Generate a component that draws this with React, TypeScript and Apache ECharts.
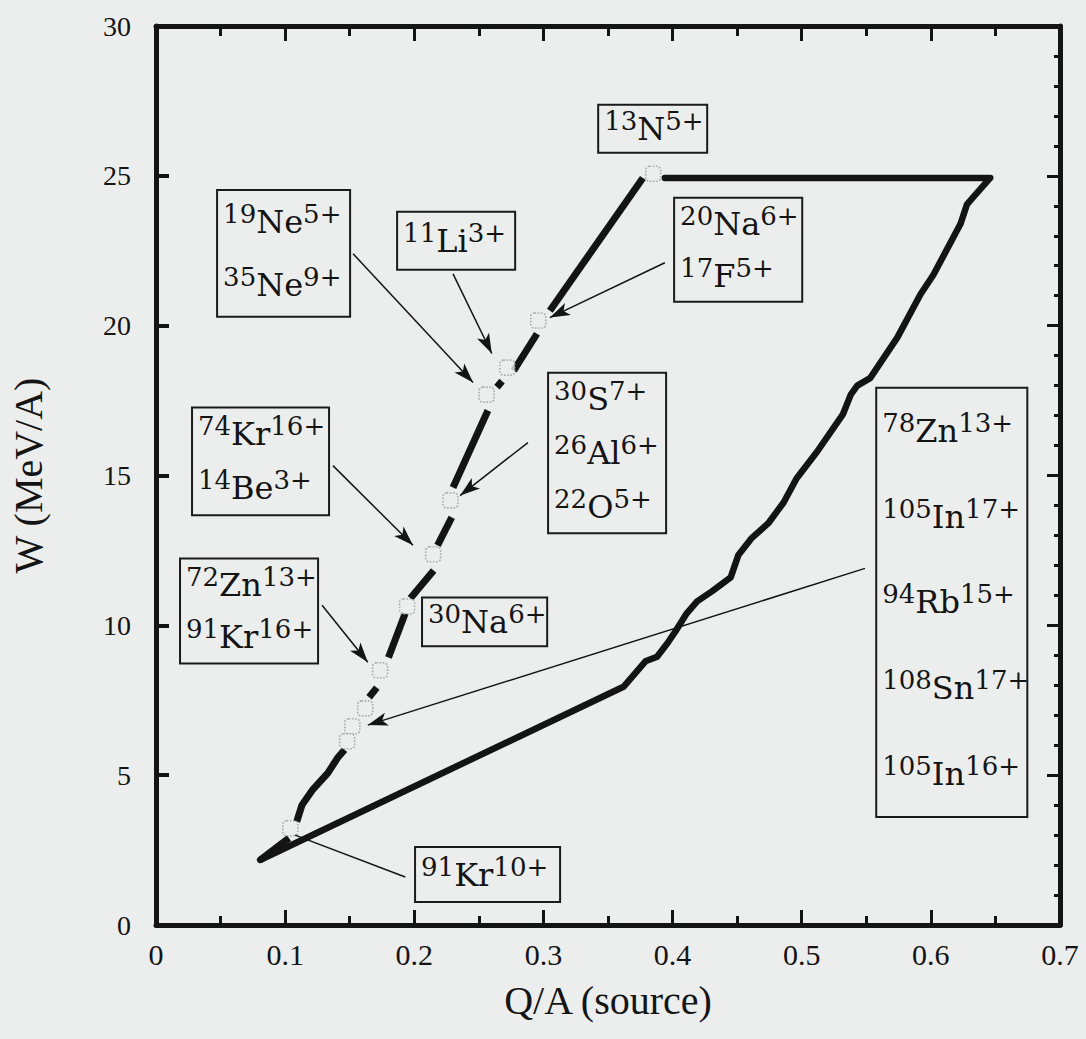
import React, { useEffect, useRef } from 'react';
import * as echarts from 'echarts';

// ---- tick labels ----
const X_TICKS = ['0', '0.1', '0.2', '0.3', '0.4', '0.5', '0.6', '0.7'];
const Y_TICKS = ['0', '5', '10', '15', '20', '25', '30'];

// ---- left edge of the acceptance region (broken where the ions sit) ----
const LEFT_EDGE_SEGMENTS: number[][][] = [
  [[0.0806, 2.17], [0.103, 2.9]],
  [[0.109, 3.45], [0.113, 4.0], [0.121, 4.5], [0.133, 5.07], [0.141, 5.6], [0.146, 5.85]],
  [[0.165, 7.6], [0.171, 7.92]],
  [[0.18, 8.93], [0.193, 10.4]],
  [[0.197, 10.9], [0.215, 11.83]],
  [[0.218, 12.67], [0.229, 13.6]],
  [[0.23, 14.6], [0.257, 17.17]],
  [[0.264, 17.95], [0.268, 18.15]],
  [[0.277, 18.5], [0.295, 19.73]],
  [[0.305, 20.5], [0.377, 24.93]],
];

// ---- top, right and lower edges ----
const OUTLINE: number[][] = [
  [0.394, 24.93], [0.646, 24.93], [0.633, 24.3], [0.628, 24.05], [0.623, 23.4],
  [0.602, 21.7], [0.592, 21.05], [0.574, 19.6], [0.553, 18.25], [0.543, 18.0],
  [0.538, 17.7], [0.532, 17.05], [0.512, 15.8], [0.496, 14.9], [0.486, 14.1],
  [0.474, 13.4], [0.461, 12.9], [0.451, 12.35], [0.445, 11.6], [0.431, 11.15],
  [0.419, 10.8], [0.411, 10.4], [0.403, 9.85], [0.396, 9.4], [0.388, 8.95],
  [0.379, 8.8], [0.375, 8.6], [0.362, 7.95], [0.0806, 2.17],
];

// ---- ion points ----
const ION_POINTS: number[][] = [
  [0.385, 25.07], [0.296, 20.17], [0.272, 18.6], [0.256, 17.7], [0.228, 14.17],
  [0.2146, 12.37], [0.1944, 10.63], [0.1735, 8.5], [0.162, 7.23], [0.152, 6.63],
  [0.148, 6.13], [0.104, 3.23],
];

// ---- arrows (from label to point) ----
const ARROW_FROM: number[][] = [
  [0.1526, 22.4], [0.23, 21.73], [0.394, 22.1], [0.288, 16.1],
  [0.137, 15.33], [0.1286, 10.67], [0.549, 11.9],
];
const ARROW_TO: number[][] = [
  [0.2455, 18.1], [0.26, 19.07], [0.305, 20.27], [0.2355, 14.33],
  [0.199, 12.67], [0.164, 8.77], [0.164, 6.67],
];
const LEADER_FROM: number[][] = [[0.193, 1.6]];
const LEADER_TO: number[][] = [[0.1077, 3.0]];

// ---- label texts: [mass, element, charge] ----
const LABEL_TEXTS: string[][][] = [
  [['19', 'Ne', '5+'], ['35', 'Ne', '9+']],
  [['11', 'Li', '3+']],
  [['13', 'N', '5+']],
  [['20', 'Na', '6+'], ['17', 'F', '5+']],
  [['30', 'S', '7+'], ['26', 'Al', '6+'], ['22', 'O', '5+']],
  [['74', 'Kr', '16+'], ['14', 'Be', '3+']],
  [['72', 'Zn', '13+'], ['91', 'Kr', '16+']],
  [['30', 'Na', '6+']],
  [['91', 'Kr', '10+']],
  [['78', 'Zn', '13+'], ['105', 'In', '17+'], ['94', 'Rb', '15+'], ['108', 'Sn', '17+'], ['105', 'In', '16+']],
];
// label box placement in data units: [xLeft, yTop, xRight, yBottom]
const LABEL_BOX_PLACEMENT: number[][] = [
  [0.0473, 24.53, 0.1503, 20.3],
  [0.1867, 23.8, 0.2781, 21.87],
  [0.3424, 27.37, 0.4268, 25.77],
  [0.4012, 24.27, 0.5004, 20.8],
  [0.3036, 18.43, 0.395, 13.07],
  [0.0279, 17.27, 0.134, 13.67],
  [0.0186, 12.23, 0.1255, 8.73],
  [0.206, 10.93, 0.3029, 9.3],
  [0.2006, 2.6, 0.3129, 0.77],
  [0.5577, 17.93, 0.6747, 3.6],
];

const BG = '#eceeed';
const INK = '#141414';
const SERIF_TICK = '"Liberation Serif", "DejaVu Serif", serif';
const SERIF_LABEL = '"DejaVu Serif", "Liberation Serif", serif';

const RICH = {
  m: { fontSize: 26, fontFamily: SERIF_LABEL, fill: INK, lineHeight: 26, verticalAlign: 'top' },
  e: { fontSize: 32, fontFamily: SERIF_LABEL, fill: INK, lineHeight: 42 },
  c: { fontSize: 26, fontFamily: SERIF_LABEL, fill: INK, lineHeight: 26, verticalAlign: 'top' },
};

function buildGraphic(chart: any) {
  const els: any[] = [];
  LABEL_TEXTS.forEach((lines, bi) => {
    const b = LABEL_BOX_PLACEMENT[bi];
    const p0 = chart.convertToPixel({ gridIndex: 0 }, [b[0], b[1]]);
    const p1 = chart.convertToPixel({ gridIndex: 0 }, [b[2], b[3]]);
    const x = p0[0], y = p0[1], w = p1[0] - p0[0], h = p1[1] - p0[1];
    els.push({
      type: 'rect',
      shape: { x, y, width: w, height: h },
      style: { fill: BG, stroke: '#1b1b1b', lineWidth: 2 },
      z: 20,
      silent: true,
    });
    const n = lines.length;
    lines.forEach((ln, i) => {
      els.push({
        type: 'text',
        x: x + 6,
        y: y + (h * (i + 0.5)) / n,
        z: 21,
        silent: true,
        style: {
          text: `{m|${ln[0]}}{e|${ln[1]}}{c|${ln[2]}}`,
          rich: RICH,
          align: 'left',
          verticalAlign: 'middle',
          fill: INK,
        },
      });
    });
  });
  return els;
}

export default function App() {
  const ref = useRef<HTMLDivElement>(null);
  useEffect(() => {
    if (!ref.current) return;
    const chart = echarts.init(ref.current, undefined, { renderer: 'svg' });

    const axisLine = { show: true, onZero: false, lineStyle: { color: INK, width: 5 } };
    const series: any[] = [];
    LEFT_EDGE_SEGMENTS.forEach((seg) => {
      series.push({
        type: 'line',
        data: seg,
        symbol: 'none',
        lineStyle: { color: INK, width: 7, cap: 'butt', join: 'round' },
        silent: true,
        z: 3,
      });
    });
    series.push({
      type: 'line',
      data: OUTLINE,
      symbol: 'none',
      lineStyle: { color: INK, width: 6.5, cap: 'round', join: 'round' },
      silent: true,
      z: 3,
    });
    series.push({
      type: 'scatter',
      data: ION_POINTS,
      symbol: 'roundRect',
      symbolSize: 15,
      itemStyle: { color: BG, borderColor: '#9a9a9a', borderWidth: 1.6, borderType: 'dotted' },
      silent: true,
      z: 4,
    });
    const arrowLines = ARROW_FROM.map((f, i) => [
      { coord: f, symbol: 'none' },
      { coord: ARROW_TO[i], symbol: 'arrow', symbolSize: [10, 20] },
    ]);
    const leaderLines = LEADER_FROM.map((f, i) => [
      { coord: f, symbol: 'none' },
      { coord: LEADER_TO[i], symbol: 'none' },
    ]);
    series.push({
      type: 'scatter',
      data: [],
      silent: true,
      z: 6,
      markLine: {
        silent: true,
        animation: false,
        label: { show: false },
        emphasis: { disabled: true },
        lineStyle: { color: INK, width: 1.5, type: 'solid' },
        itemStyle: { color: INK },
        data: [...arrowLines, ...leaderLines],
      },
    });

    chart.setOption({
      animation: false,
      backgroundColor: BG,
      grid: {
        left: 156, top: 26, width: 904, height: 899,
        containLabel: false, outerBoundsMode: 'none',
      },
      xAxis: [
        {
          type: 'value', position: 'bottom', min: 0, max: 0.7, interval: 0.1,
          axisLine,
          axisTick: { show: true, inside: true, length: 15, lineStyle: { color: INK, width: 3 } },
          minorTick: { show: true, splitNumber: 2, length: 9, lineStyle: { color: INK, width: 3 } },
          splitLine: { show: false }, minorSplitLine: { show: false },
          axisLabel: {
            color: INK, fontFamily: SERIF_TICK, fontSize: 30, margin: 14,
            formatter: (v: number) => X_TICKS[Math.round(v * 10)] ?? '',
          },
          name: 'Q/A (source)', nameLocation: 'middle', nameGap: 55, nameMoveOverlap: false,
          nameTextStyle: { color: INK, fontFamily: SERIF_TICK, fontSize: 40 },
        },
        {
          type: 'value', position: 'top', min: 0, max: 0.7, interval: 0.1,
          axisLine,
          axisTick: { show: true, inside: true, length: 15, lineStyle: { color: INK, width: 3 } },
          minorTick: { show: true, splitNumber: 2, length: 10, lineStyle: { color: INK, width: 3 } },
          splitLine: { show: false }, minorSplitLine: { show: false },
          axisLabel: { show: false },
        },
      ],
      yAxis: [
        {
          type: 'value', position: 'left', min: 0, max: 30, interval: 5,
          axisLine,
          axisTick: { show: true, inside: true, length: 13, lineStyle: { color: INK, width: 4 } },
          minorTick: { show: false },
          splitLine: { show: false },
          axisLabel: {
            color: INK, fontFamily: SERIF_TICK, fontSize: 28, margin: 25,
            formatter: (v: number) => Y_TICKS[Math.round(v / 5)] ?? '',
          },
          name: 'W (MeV/A)', nameLocation: 'middle', nameGap: 108, nameRotate: 90, nameMoveOverlap: false,
          nameTextStyle: { color: INK, fontFamily: SERIF_TICK, fontSize: 40 },
        },
        {
          type: 'value', position: 'right', min: 0, max: 30, interval: 5,
          axisLine,
          axisTick: { show: true, inside: true, length: 13, lineStyle: { color: INK, width: 3 } },
          minorTick: { show: true, splitNumber: 5, length: 6, lineStyle: { color: INK, width: 3 } },
          splitLine: { show: false }, minorSplitLine: { show: false },
          axisLabel: { show: false },
        },
      ],
      series,
    });

    chart.setOption({ graphic: buildGraphic(chart) });

    return () => chart.dispose();
  }, []);

  return (
    <div
      ref={ref}
      style={{ position: 'fixed', left: 0, top: 0, width: '1086px', height: '1039px', background: BG }}
    />
  );
}
